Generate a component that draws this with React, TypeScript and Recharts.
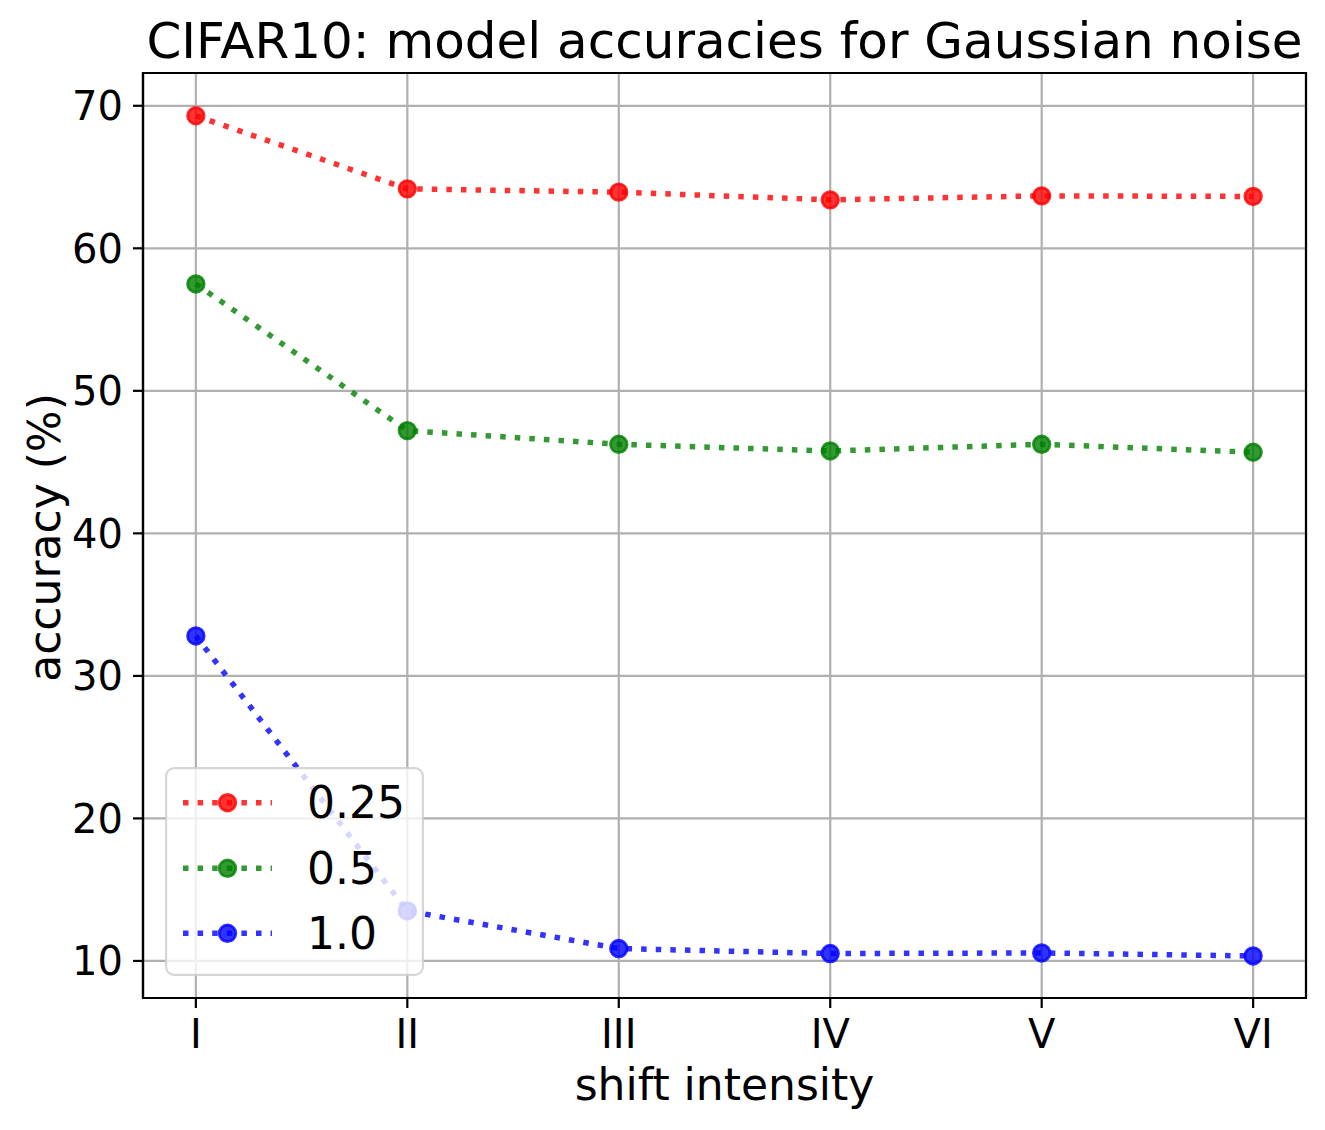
import React from "react";
import {
  LineChart,
  Line,
  XAxis,
  YAxis,
  CartesianGrid,
  ReferenceArea,
  Legend,
} from "recharts";

const FONT = "'DejaVu Sans', sans-serif";

// shift intensity levels
const intensities = ["I", "II", "III", "IV", "V", "VI"];

// accuracy (%) per noise level
const noise025 = [69.3, 64.17, 63.94, 63.4, 63.68, 63.64];
const noise05 = [57.5, 47.21, 46.25, 45.78, 46.25, 45.69];
const noise10 = [32.8, 13.51, 10.87, 10.52, 10.56, 10.35];

const yTicks = [10, 20, 30, 40, 50, 60, 70];
const xTicks = [0, 1, 2, 3, 4, 5];

const series = [
  { key: "s025", name: "0.25", color: "#ff0000" },
  { key: "s05", name: "0.5", color: "#008000" },
  { key: "s10", name: "1.0", color: "#0000ff" },
];

const data = intensities.map((_, i) => ({
  x: i,
  s025: noise025[i],
  s05: noise05[i],
  s10: noise10[i],
}));

const LW = 5.5;
const DASH = "5.5 9.1";

function LegendBox() {
  const rows = [35.7, 101.3, 166.3];
  return (
    <svg width={259} height={209} style={{ display: "block" }}>
      <rect
        x={1.1}
        y={1.1}
        width={256.8}
        height={206.8}
        rx={8}
        fill="#ffffff"
        fillOpacity={0.8}
        stroke="#cccccc"
        strokeOpacity={0.8}
        strokeWidth={2.2}
      />
      {series.map((s, i) => (
        <g key={s.key}>
          <line
            x1={18}
            x2={107}
            y1={rows[i]}
            y2={rows[i]}
            stroke={s.color}
            strokeOpacity={0.8}
            strokeWidth={LW}
            strokeDasharray={DASH}
          />
          <circle
            cx={62.5}
            cy={rows[i]}
            r={8.3}
            fill={s.color}
            fillOpacity={0.8}
            stroke={s.color}
            strokeOpacity={0.8}
            strokeWidth={2.8}
          />
          <text
            x={142}
            y={rows[i]}
            dominantBaseline="central"
            fontSize={44}
            fontFamily={FONT}
            fill="#000"
          >
            {s.name}
          </text>
        </g>
      ))}
    </svg>
  );
}

export default function App() {
  return (
    <div style={{ position: "absolute", left: 0, top: 0, width: 1325, height: 1130, background: "#fff" }}>
      <LineChart
        width={1325}
        height={1130}
        data={data}
        margin={{ top: 73, right: 19, bottom: 0, left: 0 }}
      >
        <CartesianGrid stroke="#b0b0b0" strokeWidth={2.2} />
        <XAxis
          type="number"
          dataKey="x"
          domain={[-0.25, 5.25]}
          ticks={xTicks}
          interval={0}
          allowDataOverflow
          tickFormatter={(v) => intensities[v]}
          height={132}
          tickSize={10}
          tickMargin={12}
          axisLine={{ stroke: "#000", strokeWidth: 2.2 }}
          tickLine={{ stroke: "#000", strokeWidth: 2.2 }}
          tick={{ fill: "#000", fontSize: 40, fontFamily: FONT }}
          label={{
            content: () => (
              <text x={724.5} y={1100} textAnchor="middle" fontSize={44} fontFamily={FONT} fill="#000">
                shift intensity
              </text>
            ),
          }}
        />
        <YAxis
          type="number"
          domain={[7.4, 72.3]}
          ticks={yTicks}
          interval={0}
          allowDataOverflow
          width={143}
          tickSize={10}
          tickMargin={10}
          axisLine={{ stroke: "#000", strokeWidth: 2.2 }}
          tickLine={{ stroke: "#000", strokeWidth: 2.2 }}
          tick={{ fill: "#000", fontSize: 40, fontFamily: FONT }}
          label={{
            content: () => (
              <text
                transform="translate(60,537.5) rotate(-90)"
                textAnchor="middle"
                fontSize={44}
                fontFamily={FONT}
                fill="#000"
              >
                accuracy (%)
              </text>
            ),
          }}
        />
        <ReferenceArea
          x1={-0.25}
          x2={5.25}
          y1={7.4}
          y2={72.3}
          fill="none"
          fillOpacity={0}
          stroke="#000"
          strokeWidth={2.2}
          ifOverflow="visible"
        />
        {series.map((s) => (
          <Line
            key={s.key}
            type="linear"
            dataKey={s.key}
            name={s.name}
            stroke={s.color}
            strokeOpacity={0.8}
            strokeWidth={LW}
            strokeDasharray={DASH}
            dot={{
              r: 8.3,
              fill: s.color,
              fillOpacity: 0.8,
              stroke: s.color,
              strokeOpacity: 0.8,
              strokeWidth: 2.8,
              strokeDasharray: "none",
            }}
            activeDot={false}
            isAnimationActive={false}
          />
        ))}
        <Legend
          layout="vertical"
          align="center"
          verticalAlign="middle"
          content={() => <LegendBox />}
          wrapperStyle={{ left: 165, top: 767, width: 259, height: 209 }}
        />
      </LineChart>
      <svg
        width={1325}
        height={80}
        style={{ position: "absolute", left: 0, top: 0, pointerEvents: "none" }}
      >
        <text x={724.5} y={58} textAnchor="middle" fontSize={50} fontFamily={FONT} fill="#000">
          CIFAR10: model accuracies for Gaussian noise
        </text>
      </svg>
    </div>
  );
}
